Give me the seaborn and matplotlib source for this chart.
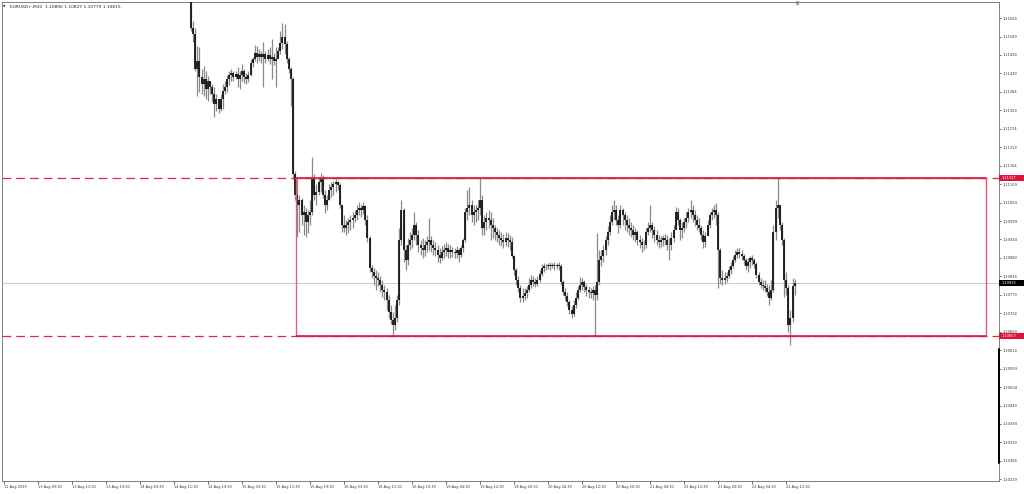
import numpy as np
import pandas as pd
import matplotlib
matplotlib.use("Agg")
import matplotlib.pyplot as plt
import seaborn as sns
from matplotlib.patches import Rectangle
from matplotlib.transforms import blended_transform_factory

# ---------------- data (EURUSD+, M30) ----------------
symbol_title = "EURUSD+,M30  1.10806 1.10827 1.10779 1.10815"
first_bar = 88          # bar number of the first visible bar
first_open = 1.11693

highs = [
1.11708, 1.11594, 1.11573, 1.11522, 1.11519, 1.11453, 1.11462, 1.11447, 1.11432, 1.11417,
1.11408, 1.11399, 1.11378, 1.11363, 1.11378, 1.11408, 1.11417, 1.11435, 1.11447, 1.11453,
1.11447, 1.11447, 1.11459, 1.11447, 1.11468, 1.11453, 1.11441, 1.11447, 1.11483, 1.11489,
1.11525, 1.11522, 1.11513, 1.11507, 1.11534, 1.11507, 1.11513, 1.11519, 1.11543, 1.11501,
1.11519, 1.11519, 1.11567, 1.11588, 1.11585, 1.11537, 1.11489, 1.11459, 1.11429, 1.11147,
1.11123, 1.11078, 1.11069, 1.11048, 1.11039, 1.11033, 1.11063, 1.11189, 1.11138, 1.11108,
1.11129, 1.11141, 1.11135, 1.11093, 1.11078, 1.11108, 1.11114, 1.11117, 1.11123, 1.11117,
1.11111, 1.11048, 1.11018, 1.11003, 1.11009, 1.11018, 1.11027, 1.11033, 1.11048, 1.11057,
1.11048, 1.11057, 1.11048, 1.11018, 1.10955, 1.10868, 1.10859, 1.10853, 1.10847, 1.10835,
1.10823, 1.10808, 1.10799, 1.10778, 1.10748, 1.10727, 1.10748, 1.10778, 1.10979, 1.11063,
1.11039, 1.10928, 1.10949, 1.10967, 1.10979, 1.11027, 1.10997, 1.10973, 1.10943, 1.10949,
1.10943, 1.10955, 1.11009, 1.10955, 1.10943, 1.10937, 1.10928, 1.10919, 1.10925, 1.10931,
1.10937, 1.10931, 1.10928, 1.10922, 1.10919, 1.10925, 1.10919, 1.10928, 1.10949, 1.11039,
1.11093, 1.11099, 1.11063, 1.11048, 1.11048, 1.11063, 1.11127, 1.11078, 1.11018, 1.11027,
1.11033, 1.11027, 1.11009, 1.10988, 1.10979, 1.10973, 1.10967, 1.10961, 1.10967, 1.10964,
1.10958, 1.10952, 1.10898, 1.10859, 1.10835, 1.10808, 1.10799, 1.10799, 1.10805, 1.10829,
1.10838, 1.10835, 1.10829, 1.10835, 1.10853, 1.10871, 1.10874, 1.10871, 1.10874, 1.10877,
1.10874, 1.10877, 1.10874, 1.10877, 1.10871, 1.10823, 1.10799, 1.10787, 1.10763, 1.10745,
1.10763, 1.10787, 1.10805, 1.10832, 1.10829, 1.10823, 1.10811, 1.10805, 1.10799, 1.10805,
1.10808, 1.10964, 1.10913, 1.10913, 1.10928, 1.10955, 1.10985, 1.11018, 1.11048, 1.11063,
1.11048, 1.11018, 1.11048, 1.11039, 1.11027, 1.11018, 1.11009, 1.10997, 1.10988, 1.10979,
1.10973, 1.10958, 1.10949, 1.10943, 1.10979, 1.10997, 1.11048, 1.10997, 1.10985, 1.10973,
1.10958, 1.10955, 1.10958, 1.10961, 1.10958, 1.10949, 1.10967, 1.10988, 1.11042, 1.11039,
1.11009, 1.10997, 1.11009, 1.11027, 1.11039, 1.11063, 1.11048, 1.11033, 1.11018, 1.11009,
1.10988, 1.10973, 1.10967, 1.11003, 1.11027, 1.11039, 1.11048, 1.11054, 1.11027, 1.10919,
1.10853, 1.10847, 1.10847, 1.10865, 1.10877, 1.10895, 1.10913, 1.10919, 1.10919, 1.10913,
1.10901, 1.10889, 1.10889, 1.10895, 1.10898, 1.10889, 1.10877, 1.10847, 1.10829, 1.10823,
1.10823, 1.10811, 1.10808, 1.10823, 1.10988, 1.11063, 1.11127, 1.11048, 1.10997, 1.10949,
1.10847, 1.10808, 1.10733, 1.10829, 1.10827]

lows = [
1.11567, 1.11534, 1.11447, 1.11372, 1.11384, 1.11378, 1.11372, 1.11363, 1.11357, 1.11378,
1.11354, 1.11309, 1.11327, 1.11321, 1.11327, 1.11333, 1.11378, 1.11384, 1.11405, 1.11417,
1.11417, 1.11423, 1.11399, 1.11393, 1.11417, 1.11411, 1.11408, 1.11414, 1.11432, 1.11459,
1.11477, 1.11471, 1.11477, 1.11471, 1.11399, 1.11471, 1.11477, 1.11468, 1.11423, 1.11465,
1.11399, 1.11489, 1.11498, 1.11513, 1.11498, 1.11471, 1.11441, 1.11342, 1.11123, 1.11063,
1.10952, 1.10967, 1.10988, 1.10958, 1.10952, 1.10964, 1.10988, 1.11018, 1.11063, 1.11048,
1.11078, 1.11087, 1.11069, 1.11024, 1.11033, 1.11063, 1.11072, 1.11078, 1.11087, 1.11093,
1.11039, 1.10967, 1.10967, 1.10958, 1.10964, 1.10973, 1.10979, 1.10997, 1.11003, 1.11018,
1.11012, 1.11021, 1.10988, 1.10937, 1.10847, 1.10829, 1.10808, 1.10793, 1.10805, 1.10787,
1.10772, 1.10763, 1.10733, 1.10709, 1.10691, 1.10658, 1.10673, 1.10697, 1.10748, 1.10928,
1.10877, 1.10853, 1.10868, 1.10913, 1.10919, 1.10943, 1.10928, 1.10907, 1.10898, 1.10889,
1.10895, 1.10907, 1.10913, 1.10907, 1.10898, 1.10895, 1.10877, 1.10874, 1.10883, 1.10889,
1.10895, 1.10889, 1.10889, 1.10892, 1.10889, 1.10889, 1.10877, 1.10892, 1.10907, 1.10937,
1.11003, 1.11018, 1.10997, 1.10988, 1.10997, 1.11003, 1.11018, 1.10958, 1.10958, 1.10973,
1.10979, 1.10943, 1.10949, 1.10943, 1.10937, 1.10928, 1.10925, 1.10919, 1.10925, 1.10922,
1.10913, 1.10889, 1.10838, 1.10808, 1.10787, 1.10757, 1.10757, 1.10763, 1.10769, 1.10787,
1.10799, 1.10805, 1.10802, 1.10805, 1.10817, 1.10835, 1.10847, 1.10853, 1.10856, 1.10853,
1.10859, 1.10853, 1.10856, 1.10853, 1.10808, 1.10778, 1.10763, 1.10745, 1.10721, 1.10709,
1.10715, 1.10739, 1.10763, 1.10787, 1.10793, 1.10787, 1.10775, 1.10769, 1.10769, 1.10763,
1.10657, 1.10763, 1.10808, 1.10865, 1.10877, 1.10898, 1.10928, 1.10958, 1.10988, 1.11003,
1.10988, 1.10964, 1.10979, 1.10988, 1.10973, 1.10967, 1.10958, 1.10952, 1.10943, 1.10937,
1.10928, 1.10919, 1.10907, 1.10913, 1.10919, 1.10958, 1.10967, 1.10949, 1.10937, 1.10928,
1.10919, 1.10922, 1.10925, 1.10928, 1.10913, 1.10883, 1.10913, 1.10937, 1.10979, 1.10988,
1.10943, 1.10949, 1.10967, 1.10979, 1.10997, 1.11009, 1.10997, 1.10985, 1.10973, 1.10967,
1.10943, 1.10919, 1.10922, 1.10958, 1.10979, 1.11003, 1.11009, 1.10988, 1.10799, 1.10811,
1.10808, 1.10811, 1.10817, 1.10829, 1.10841, 1.10859, 1.10877, 1.10889, 1.10889, 1.10883,
1.10868, 1.10853, 1.10847, 1.10859, 1.10868, 1.10859, 1.10829, 1.10808, 1.10799, 1.10793,
1.10787, 1.10775, 1.10748, 1.10763, 1.10787, 1.10943, 1.11009, 1.10973, 1.10928, 1.10772,
1.10778, 1.10667, 1.10628, 1.10697, 1.10779]

closes = [
1.11573, 1.11558, 1.11453, 1.11477, 1.11429, 1.11408, 1.11423, 1.11393, 1.11417, 1.11399,
1.11378, 1.11348, 1.11363, 1.11333, 1.11363, 1.11387, 1.11399, 1.11423, 1.11435, 1.11441,
1.11429, 1.11438, 1.11423, 1.11435, 1.11447, 1.11429, 1.11423, 1.11435, 1.11471, 1.11483,
1.11501, 1.11489, 1.11498, 1.11489, 1.11498, 1.11483, 1.11495, 1.11483, 1.11489, 1.11477,
1.11483, 1.11507, 1.11531, 1.11549, 1.11528, 1.11483, 1.11453, 1.11423, 1.11138, 1.11078,
1.11048, 1.11063, 1.11018, 1.11027, 1.10997, 1.11018, 1.11027, 1.11123, 1.11078, 1.11087,
1.11114, 1.11123, 1.11078, 1.11048, 1.11063, 1.11093, 1.11099, 1.11108, 1.11114, 1.11105,
1.11048, 1.10988, 1.10979, 1.10988, 1.10997, 1.11003, 1.11009, 1.11018, 1.11033, 1.11039,
1.11033, 1.11045, 1.11003, 1.10949, 1.10859, 1.10847, 1.10835, 1.10829, 1.10823, 1.10808,
1.10793, 1.10787, 1.10763, 1.10727, 1.10703, 1.10688, 1.10709, 1.10763, 1.10943, 1.11033,
1.10913, 1.10883, 1.10928, 1.10943, 1.10958, 1.10988, 1.10958, 1.10928, 1.10919, 1.10913,
1.10928, 1.10937, 1.10943, 1.10928, 1.10919, 1.10913, 1.10898, 1.10889, 1.10907, 1.10913,
1.10919, 1.10907, 1.10913, 1.10907, 1.10904, 1.10913, 1.10898, 1.10919, 1.10943, 1.11027,
1.11039, 1.11048, 1.11018, 1.11027, 1.11033, 1.11039, 1.11063, 1.10979, 1.10997, 1.11009,
1.11003, 1.10988, 1.10979, 1.10967, 1.10958, 1.10949, 1.10943, 1.10937, 1.10949, 1.10943,
1.10937, 1.10895, 1.10853, 1.10823, 1.10799, 1.10769, 1.10775, 1.10784, 1.10793, 1.10808,
1.10823, 1.10817, 1.10811, 1.10823, 1.10841, 1.10859, 1.10865, 1.10865, 1.10868, 1.10865,
1.10868, 1.10865, 1.10868, 1.10865, 1.10817, 1.10787, 1.10775, 1.10757, 1.10733, 1.10721,
1.10748, 1.10769, 1.10793, 1.10808, 1.10817, 1.10802, 1.10793, 1.10787, 1.10784, 1.10793,
1.10778, 1.10817, 1.10883, 1.10895, 1.10913, 1.10943, 1.10967, 1.10997, 1.11027, 1.11033,
1.11003, 1.10988, 1.11033, 1.11018, 1.11003, 1.10988, 1.10979, 1.10973, 1.10958, 1.10967,
1.10943, 1.10937, 1.10928, 1.10928, 1.10967, 1.10979, 1.10988, 1.10973, 1.10958, 1.10943,
1.10937, 1.10943, 1.10949, 1.10943, 1.10928, 1.10928, 1.10949, 1.10973, 1.11027, 1.11003,
1.10973, 1.10979, 1.10997, 1.11009, 1.11027, 1.11033, 1.11018, 1.11003, 1.10988, 1.10979,
1.10958, 1.10937, 1.10955, 1.10988, 1.11018, 1.11027, 1.11033, 1.11018, 1.10913, 1.10829,
1.10823, 1.10829, 1.10835, 1.10853, 1.10865, 1.10883, 1.10898, 1.10907, 1.10901, 1.10895,
1.10883, 1.10865, 1.10877, 1.10889, 1.10883, 1.10871, 1.10838, 1.10817, 1.10808, 1.10805,
1.10799, 1.10787, 1.10769, 1.10793, 1.10967, 1.11039, 1.11048, 1.10988, 1.10943, 1.10823,
1.10799, 1.10688, 1.10709, 1.10806, 1.10815]

time_labels = ["12 Aug 2019", "13 Aug 03:30", "13 Aug 11:30", "13 Aug 19:30",
               "14 Aug 03:30", "14 Aug 11:30", "14 Aug 19:30", "15 Aug 03:30",
               "15 Aug 11:30", "15 Aug 19:30", "16 Aug 03:30", "16 Aug 11:30",
               "16 Aug 19:30", "19 Aug 04:30", "19 Aug 12:30", "19 Aug 20:30",
               "20 Aug 04:30", "20 Aug 12:30", "20 Aug 20:30", "21 Aug 04:30",
               "21 Aug 12:30", "21 Aug 20:30", "22 Aug 04:30", "22 Aug 12:30"]
bars_per_label = 16

price_ticks = [1.10229, 1.10284, 1.10339, 1.10394, 1.10449, 1.10504, 1.10559,
               1.10614, 1.10669, 1.10724, 1.10779, 1.10834, 1.10889, 1.10944,
               1.10999, 1.11054, 1.11109, 1.11164, 1.11219, 1.11274, 1.11329,
               1.11384, 1.11439, 1.11494, 1.11549, 1.11604]

range_high = 1.11127
range_low = 1.10657
range_start_bar = 137.6
range_end_bar = 462.0
last_price = 1.10815

# ---------------- build ----------------
n = min(len(highs), len(lows), len(closes))
opens = [first_open] + closes[:n - 1]
df = pd.DataFrame({
    "bar": first_bar + np.arange(n),
    "open": opens[:n], "high": highs[:n], "low": lows[:n], "close": closes[:n],
})

sns.set_theme(style="white")
plt.rcParams["font.family"] = ["DejaVu Sans"]

fig = plt.figure(figsize=(10.24, 4.94), dpi=100, facecolor="white")
ax = fig.add_axes([2 / 1024, 13 / 494, 997 / 1024, 479 / 494])
ax.set_facecolor("white")

ax.set_xlim(-0.9, 468.1)
ax.set_ylim(1.10224, 1.11652)

# current price line
ax.axhline(last_price, color="#c4c4c4", lw=0.6, zorder=1)

# OHLC bars
ax.vlines(df["bar"], df["low"], df["high"], color="#8a8a8a", lw=0.9, zorder=2)
body_lo = np.minimum(df["open"], df["close"])
body_hi = np.maximum(df["open"], df["close"])
ax.vlines(df["bar"], body_lo, body_hi, color="#141414", lw=1.3, zorder=3)

# range rectangle and levels
ax.add_patch(Rectangle((range_start_bar, range_low), range_end_bar - range_start_bar,
                       range_high - range_low, fill=False, edgecolor="#e85a75",
                       lw=1.0, zorder=4))
for lv in (range_high, range_low):
    ax.axhline(lv, color="#dc2a4c", lw=0.9, ls=(0, (7, 4)), zorder=4)
    ax.hlines(lv, range_start_bar, range_end_bar, color="#d81e45", lw=1.2, zorder=4)

# axes styling
for s in ax.spines.values():
    s.set_color("#808080")
    s.set_linewidth(0.7)

ax.yaxis.tick_right()
ax.set_yticks(price_ticks)
ax.set_yticklabels([f"{v:.5f}" for v in price_ticks])
ax.tick_params(axis="y", labelsize=2.6, length=1.6, width=0.5, pad=1.0,
               colors="#333333", right=True, left=False)

tick_pos = [k * bars_per_label for k in range(len(time_labels))]
ax.set_xticks(tick_pos)
ax.set_xticklabels(time_labels)
for lab in ax.get_xticklabels():
    lab.set_horizontalalignment("left")
ax.tick_params(axis="x", labelsize=2.5, length=2.2, width=0.5, pad=1.0,
               colors="#333333", bottom=True)
ax.grid(False)

# price boxes on the right scale
tr = blended_transform_factory(ax.transAxes, ax.transData)
half = 0.0000894
for price, col in ((range_high, "#dc143c"), (range_low, "#dc143c"), (last_price, "#000000")):
    ax.add_patch(Rectangle((1.0, price - half), 0.0255, 2 * half, transform=tr,
                           facecolor=col, edgecolor="none", clip_on=False, zorder=6))
    ax.text(1.0 + 3 / 997, price, f"{price:.5f}", transform=tr, color="white",
            fontsize=2.6, va="center", ha="left", clip_on=False, zorder=7)

# dark strip on the right scale
ax.plot([1.0, 1.0], [0.038, 0.276], transform=ax.transAxes, color="black",
        lw=1.4, clip_on=False, zorder=6)
# chart-shift marker
ax.plot([373], [0.997], marker="v", ms=2.2, color="#999999",
        transform=blended_transform_factory(ax.transData, ax.transAxes), clip_on=False)

# title
fig.text(3 / 1024, 1 - 6.5 / 494, "▼", fontsize=2.3, va="center", ha="left", color="#222222")
fig.text(10 / 1024, 1 - 6.5 / 494, symbol_title, fontsize=3.2, va="center",
         ha="left", color="#222222")

fig.savefig("out.png", dpi=100, facecolor="white")
